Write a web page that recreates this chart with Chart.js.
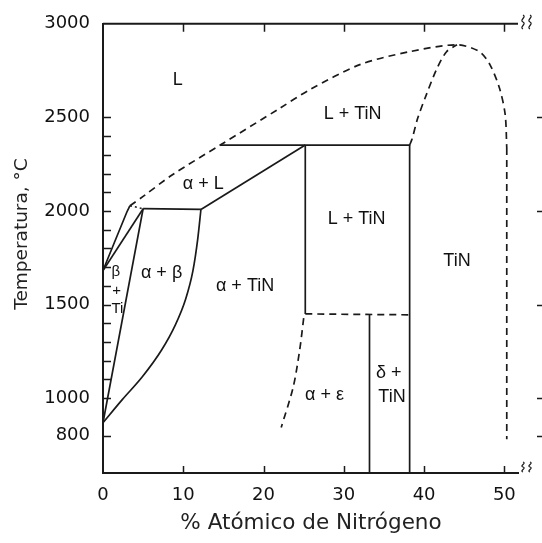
<!DOCTYPE html>
<html>
<head>
<meta charset="utf-8">
<script src="https://cdn.jsdelivr.net/npm/chart.js@4.4.1/dist/chart.umd.min.js"></script>
<style>
  html, body { margin: 0; padding: 0; background: #fff; }
  #wrap { width: 542px; height: 543px; }
</style>
</head>
<body>
<div id="wrap"><canvas id="myChart-phase"></canvas></div>
<script>
// axis ticks
const xTickVals = [0, 10, 20, 30, 40, 50];
const yTickVals = [800, 1000, 1100, 1200, 1300, 1400, 1500, 1600, 1700, 1800, 1900, 2000, 2100, 2200, 2300, 2400, 2500, 3000];
const yLabelVals = [800, 1000, 1500, 2000, 2500, 3000];
const rightTickVals = [800, 1000, 1500, 2000, 2500];

// phase boundaries, [% N, T in C]
const betaUpper = [[0, 1682], [2.95, 1992], [3.36, 2028]];
const betaLower = [[0, 1682], [5.0, 2012]];
const alphaBetaLeft = [[5.0, 2012], [0, 869]];
const peritectic1 = [[5.0, 2012], [12.2, 2008]];
const alphaSolvus = [[12.2, 2008], [11.8, 1850], [11.2, 1680], [10.3, 1530], [9.0, 1390], [7.3, 1257], [4.9, 1114], [2.4, 992], [0, 869]];
const alphaLiq = [[12.2, 2008], [25.2, 2352]];
const peritectic2 = [[14.6, 2352], [38.2, 2352]];
const vert25 = [[25.2, 2352], [25.2, 1450]];
const vert38 = [[38.2, 2352], [38.2, 600]];
const vert33 = [[33.2, 1445], [33.2, 600]];
// dashed ones
const dotShort = [[3.36, 2028], [5.0, 2012]];
const liquidus = [[3.36, 2028], [5.0, 2078], [8.7, 2195], [14.6, 2352], [22, 2548], [25.8, 2649], [32, 2782], [38.2, 2851], [44.1, 2888], [46.9, 2851], [48.2, 2782], [49.4, 2655], [50.1, 2516], [50.3, 2336]];
const tinRight = [[50.3, 2336], [50.3, 780]];
const domeLeft = [[38.2, 2352], [38.5, 2384], [39.2, 2495], [40.3, 2623], [41.6, 2761], [42.8, 2851], [44.1, 2888]];
const eutectoid = [[25.2, 1450], [38.2, 1445]];
const epsBound = [[25.0, 1427], [24.5, 1257], [23.7, 1060], [22.2, 843]];

// region labels [text, x, T, size]
const regionLabels = [
  ["L", 9.3, 2702, 18],
  ["L + TiN", 31.1, 2516, 18],
  ["\u03b1 + L", 12.5, 2145, 18],
  ["L + TiN", 31.6, 1958, 18],
  ["TiN", 44.1, 1735, 18],
  ["\u03b1 + \u03b2", 7.3, 1666, 18],
  ["\u03b1 + TiN", 17.7, 1600, 18],
  ["\u03b1 + \u03b5", 27.6, 1018, 18],
  ["\u03b4 +", 35.6, 1135, 18],
  ["TiN", 36.0, 1007, 18],
  ["\u03b2", 1.6, 1677, 15],
  ["+", 1.7, 1572, 15],
  ["Ti", 1.8, 1478, 15]
];

const toPts = arr => arr.map(p => ({ x: p[0], y: p[1] }));
const ink = "#1a1a1a";

function line(data, opts = {}) {
  return Object.assign({
    data: toPts(data),
    showLine: true,
    pointRadius: 0,
    borderColor: ink,
    borderWidth: 1.7,
    tension: 0,
    fill: false
  }, opts);
}

const decor = {
  id: "decor",
  afterDraw(chart) {
    const { ctx, chartArea: a, scales } = chart;
    const xs = scales.x, ys = scales.y;
    ctx.save();
    ctx.strokeStyle = ink;
    ctx.lineWidth = 2;
    // top border
    ctx.beginPath();
    ctx.moveTo(a.left, a.top);
    ctx.lineTo(a.right, a.top);
    ctx.stroke();
    // inward ticks
    ctx.lineWidth = 1.5;
    ctx.beginPath();
    xTickVals.slice(1).forEach(v => {
      const px = Math.round(xs.getPixelForValue(v)) + 0.5;
      ctx.moveTo(px, a.bottom); ctx.lineTo(px, a.bottom - 7);
      ctx.moveTo(px, a.top); ctx.lineTo(px, a.top + 8);
    });
    yTickVals.forEach(v => {
      if (v === 3000) return;
      const py = Math.round(ys.getPixelForValue(v)) + 0.5;
      ctx.moveTo(a.left, py); ctx.lineTo(a.left + 8, py);
    });
    rightTickVals.forEach(v => {
      const py = Math.round(ys.getPixelForValue(v)) + 0.5;
      ctx.moveTo(537, py); ctx.lineTo(542, py);
    });
    ctx.stroke();
    // axis break squiggles
    ctx.lineWidth = 1.2;
    const squiggle = (x, y, h) => {
      ctx.beginPath();
      ctx.moveTo(x, y);
      ctx.bezierCurveTo(x + 4, y + h * 0.15, x - 4, y + h * 0.35, x, y + h * 0.5);
      ctx.bezierCurveTo(x + 4, y + h * 0.65, x - 4, y + h * 0.85, x, y + h);
      ctx.stroke();
    };
    squiggle(523, 15, 14); squiggle(530, 15, 14);
    squiggle(523, 462, 10); squiggle(530, 462, 10);
    // region labels
    ctx.fillStyle = "#111";
    ctx.textAlign = "center";
    ctx.textBaseline = "middle";
    regionLabels.forEach(([t, x, T, s]) => {
      ctx.font = s + "px 'Liberation Sans', Arial, sans-serif";
      ctx.fillText(t, xs.getPixelForValue(x), ys.getPixelForValue(T));
    });
    // axis titles
    ctx.fillStyle = "#222";
    ctx.font = "21.5px 'DejaVu Sans', Verdana, sans-serif";
    ctx.fillText("% At\u00f3mico de Nitr\u00f3geno", 311, 523);
    ctx.font = "18.5px 'DejaVu Sans', Verdana, sans-serif";
    ctx.translate(22, 234);
    ctx.rotate(-Math.PI / 2);
    ctx.fillText("Temperatura, \u00b0C", 0, 0);
    ctx.restore();
  }
};

const dash = [7, 5];

new Chart(document.getElementById("myChart-phase"), {
  type: "scatter",
  data: {
    datasets: [
      line(betaUpper, { tension: 0.3 }),
      line(betaLower),
      line(alphaBetaLeft),
      line(peritectic1),
      line(alphaSolvus, { cubicInterpolationMode: "monotone" }),
      line(alphaLiq),
      line(peritectic2),
      line(vert25),
      line(vert38),
      line(vert33),
      line(dotShort, { borderDash: [2, 3], borderWidth: 1.5 }),
      line(liquidus, { tension: 0.3, borderDash: dash }),
      line(tinRight, { borderDash: dash }),
      line(domeLeft, { tension: 0.3, borderDash: dash }),
      line(eutectoid, { borderDash: dash }),
      line(epsBound, { tension: 0.3, borderDash: dash })
    ]
  },
  options: {
    responsive: true,
    maintainAspectRatio: false,
    animation: false,
    layout: { padding: { left: 0, top: 22, right: 24, bottom: 0 } },
    plugins: {
      legend: { display: false },
      tooltip: { enabled: false }
    },
    scales: {
      x: {
        type: "linear",
        min: 0,
        max: 51.7,
        afterBuildTicks: s => { s.ticks = xTickVals.map(v => ({ value: v })); },
        afterFit: s => { s.height = 70; },
        grid: { display: false, drawTicks: false },
        border: { display: true, color: ink, width: 2 },
        ticks: {
          padding: 12,
          color: "#111",
          font: { family: "'DejaVu Sans', Verdana, sans-serif", size: 18 },
          maxRotation: 0
        }
      },
      y: {
        type: "linear",
        min: 600,
        max: 3000,
        afterBuildTicks: s => { s.ticks = yTickVals.map(v => ({ value: v })); },
        afterFit: s => { s.width = 103; },
        grid: { display: false, drawTicks: false },
        border: { display: true, color: ink, width: 2 },
        ticks: {
          padding: 13,
          color: "#111",
          font: { family: "'DejaVu Sans', Verdana, sans-serif", size: 18 },
          callback: v => yLabelVals.includes(v) ? String(v) : ""
        }
      }
    }
  },
  plugins: [decor]
});
</script>
</body>
</html>
